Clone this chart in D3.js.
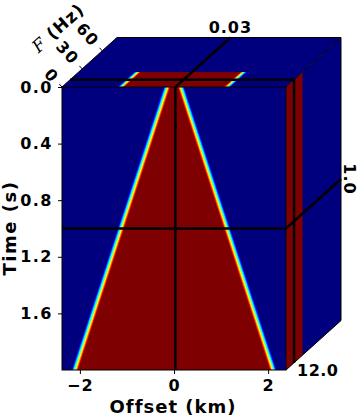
<!DOCTYPE html>
<html>
<head>
<meta charset="utf-8">
<script src="https://cdn.jsdelivr.net/npm/d3@7"></script>
<style>
body { margin: 0; background: #fff; }
svg { display: block; }
text { font-family: "DejaVu Sans", sans-serif; font-weight: bold; fill: #000; }
</style>
</head>
<body>
<svg width="359" height="416"></svg>
<script>
// axes of the cube
var offsetDomain = [-2.38, 2.38];   // km
var timeDomain = [0, 2.0];          // s
var freqDomain = [0, 82];           // Hz
var offsetTicks = [-2, 0, 2];
var timeTicks = [0.0, 0.4, 0.8, 1.2, 1.6];
var freqTicks = [0, 30, 60];

// fan edge (half width in km) read at a few times
var fanTimes = [0, 0.5, 1.0, 1.5, 2.0];
var fanHalfWidth = [0.15, 0.64, 1.13, 1.62, 2.11];
var edgeWidth = 0.15;               // km, width of the smooth edge
var passBand = [0, 25];             // Hz

// slice positions: offset, time, frequency
var sliceValues = [0.03, 1.0, 12.0];
var sliceLabels = ["0.03", "1.0", "12.0"];

var front = {left: 62, right: 286, top: 87, bottom: 370};
var depth = {dx: 55, dy: -49.5};
var D = 60; // raster rows along frequency

var svg = d3.select("svg");

var x = d3.scaleLinear().domain(offsetDomain).range([front.left, front.right]);
var y = d3.scaleLinear().domain(timeDomain).range([front.top, front.bottom]);
var z = d3.scaleLinear().domain(freqDomain).range([0, 1]);
var halfWidth = d3.scaleLinear().domain(fanTimes).range(fanHalfWidth);

var jet = d3.scaleLinear()
	.domain([0, 0.11, 0.36, 0.64, 0.89, 1])
	.range(["#00007f", "#0000ff", "#00ffff", "#ffff00", "#ff0000", "#7f0000"])
	.clamp(true);

// lookup table for the colour map
var lut = d3.range(256).map(function(i) { return d3.rgb(jet(i / 255)); });

function amp(off, t, f) {
	if (f < passBand[0] || f > passBand[1]) return 0;
	var r = 0.5 + (halfWidth(t) - Math.abs(off)) / edgeWidth;
	return Math.max(0, Math.min(1, r));
}

function raster(w, h, fn) {
	var c = document.createElement("canvas");
	c.width = w;
	c.height = h;
	var ctx = c.getContext("2d");
	var img = ctx.createImageData(w, h);
	for (var j = 0; j < h; j++) {
		for (var i = 0; i < w; i++) {
			var col = lut[Math.round(fn(i + 0.5, j + 0.5) * 255)];
			var k = (j * w + i) * 4;
			img.data[k] = col.r;
			img.data[k + 1] = col.g;
			img.data[k + 2] = col.b;
			img.data[k + 3] = 255;
		}
	}
	ctx.putImageData(img, 0, 0);
	return c.toDataURL();
}

var fw = front.right - front.left,
	fh = front.bottom - front.top;

// front face: offset vs time at the frequency slice
svg.append("image")
	.attr("x", front.left)
	.attr("y", front.top)
	.attr("width", fw)
	.attr("height", fh)
	.attr("preserveAspectRatio", "none")
	.attr("href", raster(fw, fh, function(i, j) {
		return amp(x.invert(front.left + i), y.invert(front.top + j), sliceValues[2]);
	}));

// top face: offset vs frequency at the time slice
svg.append("image")
	.attr("width", fw)
	.attr("height", D)
	.attr("preserveAspectRatio", "none")
	.attr("transform", "matrix(1,0," + (depth.dx / D) + "," + (depth.dy / D) + "," + front.left + "," + front.top + ")")
	.attr("href", raster(fw, D, function(i, j) {
		return amp(x.invert(front.left + i), sliceValues[1], z.invert(j / D));
	}));

// side face: frequency vs time at the offset slice
svg.append("image")
	.attr("width", D)
	.attr("height", fh)
	.attr("preserveAspectRatio", "none")
	.attr("transform", "matrix(" + (depth.dx / D) + "," + (depth.dy / D) + ",0,1," + front.right + "," + front.top + ")")
	.attr("href", raster(D, fh, function(i, j) {
		return amp(sliceValues[0], y.invert(front.top + j), z.invert(i / D));
	}));

// outlines
var line = d3.line();
var thin = svg.append("g").attr("fill", "none").attr("stroke", "#000").attr("stroke-width", 1);
thin.append("rect")
	.attr("x", front.left).attr("y", front.top)
	.attr("width", fw).attr("height", fh);
thin.append("path").attr("d", line([
	[front.left, front.top],
	[front.left + depth.dx, front.top + depth.dy],
	[front.right + depth.dx, front.top + depth.dy],
	[front.right, front.top]
]));
thin.append("path").attr("d", line([
	[front.right + depth.dx, front.top + depth.dy],
	[front.right + depth.dx, front.bottom + depth.dy],
	[front.right, front.bottom]
]));

// slice lines
var thick = svg.append("g").attr("fill", "none").attr("stroke", "#000").attr("stroke-width", 2.5);
var xs = x(sliceValues[0]), ys = y(sliceValues[1]), zs = z(sliceValues[2]);
var zx = zs * depth.dx, zy = zs * depth.dy;
thick.append("path").attr("d", line([[xs, front.bottom], [xs, front.top], [xs + depth.dx, front.top + depth.dy]]));
thick.append("path").attr("d", line([[front.left, ys], [front.right, ys], [front.right + depth.dx, ys + depth.dy]]));
thick.append("path").attr("d", line([[front.left + zx, front.top + zy], [front.right + zx, front.top + zy], [front.right + zx, front.bottom + zy]]));

// slice labels
svg.append("text")
	.attr("x", xs + depth.dx)
	.attr("y", 33)
	.attr("text-anchor", "middle")
	.style("font-size", "16px")
	.style("letter-spacing", "1px")
	.text(sliceLabels[0]);
svg.append("text")
	.attr("transform", "translate(" + 350 + "," + (ys + depth.dy) + ") rotate(90)")
	.attr("text-anchor", "middle")
	.attr("dy", "0.35em")
	.style("font-size", "16px")
	.style("letter-spacing", "1px")
	.text(sliceLabels[1]);
svg.append("text")
	.attr("x", 297)
	.attr("y", 376)
	.style("font-size", "16px")
	.style("letter-spacing", "0.5px")
	.text(sliceLabels[2]);

// time axis
var yAxis = svg.append("g")
	.attr("transform", "translate(" + front.left + ",0)")
	.call(d3.axisLeft(y).tickValues(timeTicks).tickSize(4).tickPadding(5).tickFormat(d3.format(".1f")));
yAxis.select(".domain").remove();
yAxis.selectAll("text")
	.attr("font-size", null)
	.attr("font-family", null)
	.style("font-size", "16px")
	.style("letter-spacing", "1.5px");

// offset axis
var xAxis = svg.append("g")
	.attr("transform", "translate(0," + front.bottom + ")")
	.call(d3.axisBottom(x).tickValues(offsetTicks).tickSize(4).tickPadding(6).tickFormat(d3.format("d")));
xAxis.select(".domain").remove();
xAxis.selectAll("text")
	.attr("font-size", null)
	.attr("font-family", null)
	.style("font-size", "16px")
	.style("letter-spacing", "1px");

// frequency axis along the depth edge
var ang = Math.atan2(depth.dy, depth.dx) * 180 / Math.PI + 90;
var ux = Math.cos(ang * Math.PI / 180), uy = Math.sin(ang * Math.PI / 180);
var fAxis = svg.append("g");
freqTicks.forEach(function(f) {
	var px = front.left + z(f) * depth.dx,
		py = front.top + z(f) * depth.dy;
	fAxis.append("line")
		.attr("x1", px).attr("y1", py)
		.attr("x2", px - 4 * ux).attr("y2", py - 4 * uy)
		.attr("stroke", "#000");
	fAxis.append("text")
		.attr("transform", "translate(" + (px - 9 * ux) + "," + (py - 9 * uy) + ") rotate(" + ang + ")")
		.attr("text-anchor", "end")
		.attr("dy", "0.35em")
		.style("font-size", "16px")
		.style("letter-spacing", "1.5px")
		.text(f);
});

// axis titles
svg.append("text")
	.attr("x", 173)
	.attr("y", 413)
	.attr("text-anchor", "middle")
	.style("font-size", "18px")
	.style("letter-spacing", "1px")
	.text("Offset (km)");
svg.append("text")
	.attr("transform", "translate(16,228) rotate(-90)")
	.attr("text-anchor", "middle")
	.style("font-size", "18px")
	.style("letter-spacing", "1.5px")
	.text("Time (s)");
var ft = svg.append("text")
	.attr("transform", "translate(58,28) rotate(" + (ang - 90) + ")")
	.attr("text-anchor", "middle")
	.attr("dy", "0.35em")
	.style("font-size", "17px")
	.style("letter-spacing", "1px");
ft.append("tspan")
	.style("font-family", "'DejaVu Serif', serif")
	.style("font-style", "italic")
	.style("font-weight", "normal")
	.text("F");
ft.append("tspan").text(" (Hz)");
</script>
</body>
</html>
